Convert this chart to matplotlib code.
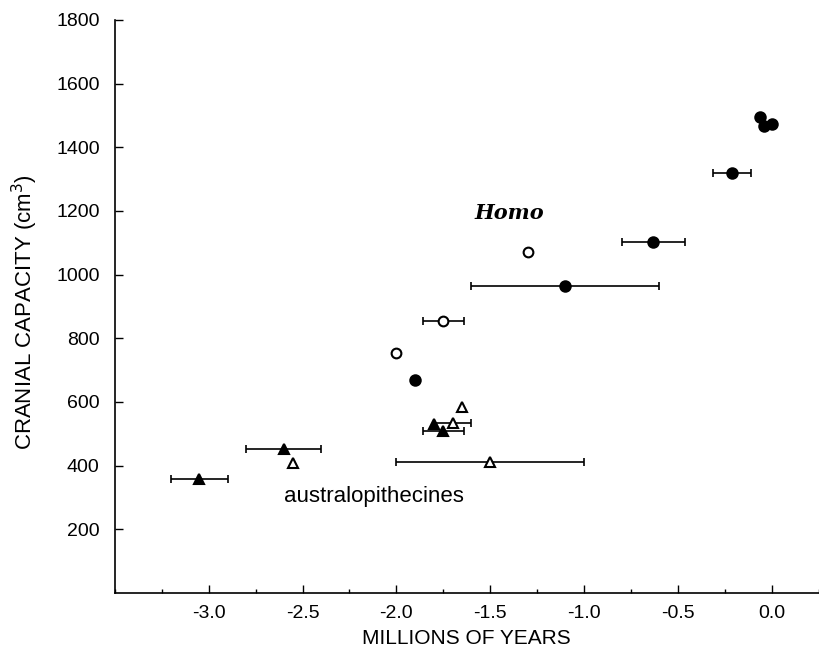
"""
Cranial capacity vs. time for hominid fossils
"""
import numpy as np
import matplotlib
matplotlib.use('Agg')
import matplotlib.pyplot as plt
from matplotlib.ticker import MultipleLocator, FormatStrFormatter

plt.rcParams['font.family'] = ['Liberation Sans', 'DejaVu Sans']

# Homo - filled circles (x in Myr, y in cm^3, xerr in Myr)
homo_x = [-0.06, -0.04, 0.0, -0.21, -0.63, -1.10, -1.90]
homo_y = [1495, 1467, 1473, 1320, 1103, 964, 669]
homo_err = [0, 0, 0, 0.10, 0.17, 0.50, 0]

# Homo - open circles
homo_open_x = [-1.30, -1.75, -2.00]
homo_open_y = [1071, 855, 754]
homo_open_err = [0, 0.11, 0]

# australopithecines - filled triangles
aus_x = [-3.05, -2.60, -1.80, -1.75]
aus_y = [358, 452, 530, 510]
aus_err = [0.15, 0.20, 0, 0.11]

# australopithecines - open triangles
aus_open_x = [-2.55, -1.65, -1.70, -1.50]
aus_open_y = [408, 584, 534, 412]
aus_open_err = [0, 0, 0.10, 0.50]


def draw(ax, xs, ys, errs, marker, filled, size):
    xs, ys, errs = np.array(xs), np.array(ys), np.array(errs)
    m = errs > 0
    if m.any():
        ax.errorbar(xs[m], ys[m], xerr=errs[m], fmt='none', ecolor='black',
                    elinewidth=1.2, capsize=3, capthick=1.2, zorder=2)
    ax.plot(xs, ys, linestyle='none', marker=marker, markersize=size,
            markerfacecolor='black' if filled else 'white',
            markeredgecolor='black', markeredgewidth=1.5, zorder=3)


fig = plt.figure(figsize=(8.19, 6.59), dpi=100)
ax = fig.add_axes([0.1404, 0.1002, 0.859, 0.8695])

draw(ax, homo_x, homo_y, homo_err, 'o', True, 7.5)
draw(ax, homo_open_x, homo_open_y, homo_open_err, 'o', False, 7)
draw(ax, aus_x, aus_y, aus_err, '^', True, 7)
draw(ax, aus_open_x, aus_open_y, aus_open_err, '^', False, 7)

ax.text(-1.40, 1194, 'Homo', family='DejaVu Serif', fontweight='bold',
        fontstyle='italic', fontsize=15, ha='center', va='center')
ax.text(-2.12, 302, 'australopithecines', fontsize=16, ha='center', va='center')

ax.set_xlim(-3.5, 0.25)
ax.set_ylim(0, 1800)
ax.xaxis.set_major_locator(MultipleLocator(0.5))
ax.xaxis.set_minor_locator(MultipleLocator(0.25))
ax.xaxis.set_major_formatter(FormatStrFormatter('%.1f'))
ax.set_xticks([-3.0, -2.5, -2.0, -1.5, -1.0, -0.5, 0.0])
ax.set_yticks(range(200, 1801, 200))
ax.tick_params(which='major', direction='in', length=6, width=1, labelsize=14)
ax.tick_params(which='minor', direction='in', length=3, width=1)
ax.tick_params(axis='x', pad=9)
ax.tick_params(axis='y', pad=11)
for s in ['top', 'right']:
    ax.spines[s].set_visible(False)
for s in ['left', 'bottom']:
    ax.spines[s].set_linewidth(1.2)

ax.set_xlabel('MILLIONS OF YEARS', fontsize=15)
ax.set_ylabel('CRANIAL CAPACITY (cm$^3$)', fontsize=16)
ax.xaxis.set_label_coords(0.5, -0.08)
ax.yaxis.set_label_coords(-0.128, 0.49)
ax.xaxis.label.set_va('center')
ax.yaxis.label.set_va('center')

plt.savefig('out.png', dpi=100)
